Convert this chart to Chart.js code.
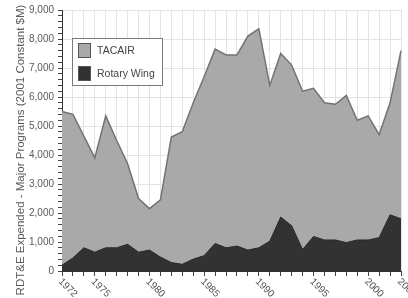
<!DOCTYPE html>
<html>
<head>
<meta charset="utf-8">
<title>RDT&amp;E Expended - Major Programs</title>
<script src="https://cdn.jsdelivr.net/npm/chart.js@4.4.1/dist/chart.umd.min.js"></script>
<style>
  html, body { margin: 0; padding: 0; background: #fff; }
</style>
</head>
<body>
<canvas id="rdteChart" width="408" height="298"></canvas>
<script>
// Fiscal years on the x axis
const years = [
  1972, 1973, 1974, 1975, 1976, 1977, 1978, 1979, 1980, 1981,
  1982, 1983, 1984, 1985, 1986, 1987, 1988, 1989, 1990, 1991,
  1992, 1993, 1994, 1995, 1996, 1997, 1998, 1999, 2000, 2001,
  2002, 2003
];

// only these years get a label under the axis
const labeledYears = [1972, 1975, 1980, 1985, 1990, 1995, 2000, 2003];

// $M, 2001 constant dollars
const tacairValues = [
  5500, 5400, 4650, 3900, 5350, 4500, 3700, 2500, 2150, 2450,
  4620, 4800, 5800, 6700, 7650, 7450, 7450, 8100, 8350, 6400,
  7500, 7100, 6200, 6300, 5800, 5750, 6050, 5200, 5350, 4700,
  5800, 7600
];

const rotaryWingValues = [
  200, 450, 800, 650, 800, 800, 920, 650, 720, 480,
  290, 230, 410, 530, 950, 800, 860, 720, 800, 1030,
  1860, 1560, 740, 1190, 1070, 1070, 980, 1070, 1070, 1150,
  1940, 1800
];

const yTickLabels = [0, 1000, 2000, 3000, 4000, 5000, 6000, 7000, 8000, 9000];
const yTitle = 'RDT&E Expended - Major Programs (2001 Constant $M)';

const FONT = "'Liberation Sans', Arial, sans-serif";
const TEXT_GREY = '#5a5a5a';

// x labels are rotated clockwise and start at the tick, so draw them here
const slantedYearLabels = {
  id: 'slantedYearLabels',
  afterDraw(chart) {
    const { ctx, chartArea } = chart;
    const xScale = chart.scales.x;
    ctx.save();
    ctx.font = '10px ' + FONT;
    ctx.fillStyle = '#505050';
    ctx.textAlign = 'left';
    ctx.textBaseline = 'middle';
    labeledYears.forEach(yr => {
      const x = xScale.getPixelForValue(years.indexOf(yr));
      ctx.save();
      ctx.translate(x - 2, chartArea.bottom + 9);
      ctx.rotate(Math.PI / 4);
      ctx.fillText(String(yr), 0, 0);
      ctx.restore();
    });
    ctx.restore();
  }
};

// axis title runs a little lower than the plot centre in the original
const verticalTitle = {
  id: 'verticalTitle',
  afterDraw(chart) {
    const { ctx } = chart;
    ctx.save();
    ctx.translate(21, 150);
    ctx.rotate(-Math.PI / 2);
    ctx.font = '11.5px ' + FONT;
    ctx.fillStyle = TEXT_GREY;
    ctx.textAlign = 'center';
    ctx.textBaseline = 'middle';
    ctx.fillText(yTitle, 0, 0);
    ctx.restore();
  }
};

// boxed legend sitting inside the plot, upper left
const boxedLegend = {
  id: 'boxedLegend',
  afterDraw(chart) {
    const { ctx } = chart;
    const left = 72, top = 38, w = 90, h = 47;
    ctx.save();
    ctx.fillStyle = '#fff';
    ctx.fillRect(left, top, w, h);
    ctx.strokeStyle = '#7a7a7a';
    ctx.lineWidth = 1;
    ctx.strokeRect(left + 0.5, top + 0.5, w, h);

    chart.data.datasets.forEach((ds, i) => {
      const sy = top + 5 + i * 23;
      ctx.fillStyle = ds.backgroundColor;
      ctx.fillRect(left + 6, sy, 13, 15);
      ctx.strokeStyle = '#555';
      ctx.strokeRect(left + 6.5, sy + 0.5, 12, 14);
      ctx.fillStyle = '#444';
      ctx.font = '10.5px ' + FONT;
      ctx.textAlign = 'left';
      ctx.textBaseline = 'middle';
      ctx.fillText(ds.label, left + 25, sy + 8);
    });
    ctx.restore();
  }
};

new Chart(document.getElementById('rdteChart').getContext('2d'), {
  type: 'line',
  data: {
    labels: years,
    datasets: [
      {
        label: 'TACAIR',
        data: tacairValues,
        backgroundColor: '#a9a9a9',
        borderColor: '#737373',
        borderWidth: 1.5,
        fill: 'origin',
        pointRadius: 0,
        tension: 0,
        order: 2
      },
      {
        label: 'Rotary Wing',
        data: rotaryWingValues,
        backgroundColor: '#323232',
        borderColor: '#2a2a2a',
        borderWidth: 1,
        fill: 'origin',
        pointRadius: 0,
        tension: 0,
        order: 1
      }
    ]
  },
  options: {
    responsive: false,
    animation: false,
    events: [],
    layout: {
      padding: { left: 6, top: 10, right: 7, bottom: 22 }
    },
    plugins: {
      legend: { display: false },
      tooltip: { enabled: false }
    },
    scales: {
      x: {
        type: 'category',
        offset: false,
        ticks: { display: false },
        grid: {
          color: '#e3e3e3',
          tickColor: '#444',
          tickLength: 5,
          offset: false
        },
        border: { color: '#333', width: 1 }
      },
      y: {
        min: 0,
        max: 9000,
        afterFit(scale) { scale.width = 56; },
        ticks: {
          stepSize: 200,
          autoSkip: false,
          padding: 4,
          color: TEXT_GREY,
          font: { family: FONT, size: 10 },
          callback: v => yTickLabels.includes(v) ? v.toLocaleString('en-US') : ''
        },
        grid: {
          color: ctx => (ctx.tick && yTickLabels.includes(ctx.tick.value)) ? '#e3e3e3' : 'rgba(0,0,0,0)',
          tickColor: '#444',
          tickLength: 4
        },
        border: { color: '#333', width: 1 }
      }
    }
  },
  plugins: [slantedYearLabels, verticalTitle, boxedLegend]
});
</script>
</body>
</html>
